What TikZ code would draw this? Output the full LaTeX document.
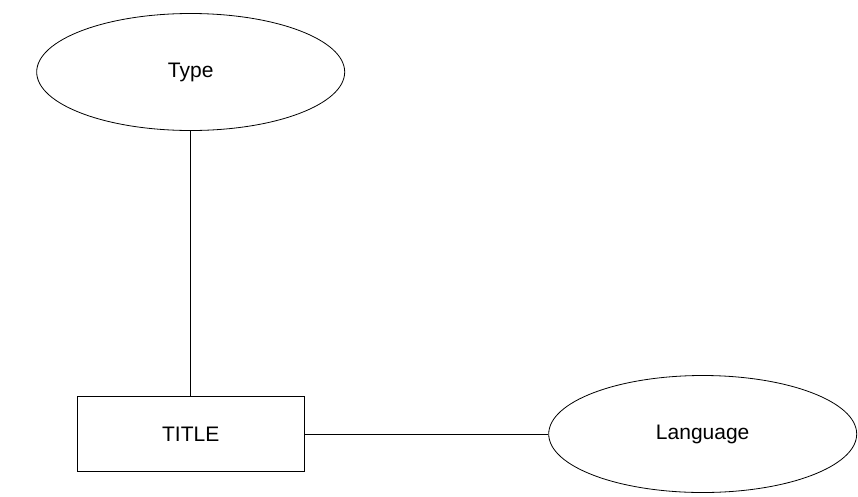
\documentclass[tikz,border=0pt]{standalone}
\usepackage{fontspec}
\setmainfont{Liberation Sans}
\usetikzlibrary{shapes.geometric,positioning}

\begin{document}
\begin{tikzpicture}[node distance=362pt,on grid,line width=0.8pt,
    attr/.style={ellipse,draw,minimum width=308pt,minimum height=117pt,inner sep=0pt},
    entity/.style={rectangle,draw,minimum width=227pt,minimum height=75pt,inner sep=0pt},
    every node/.style={font=\fontsize{21}{25}\selectfont}]
   \useasboundingbox (-190.7pt,72pt) rectangle (667.3pt,-424pt);
   \node[attr] (type) at (0,0) {Type};
   \node[entity] (title) [below =of type] {TITLE};
   \node[attr] (lang) [right =512pt of title] {Language};

    \path
    (type) edge (title)
    (title) edge (lang);
\end{tikzpicture}
\end{document}
